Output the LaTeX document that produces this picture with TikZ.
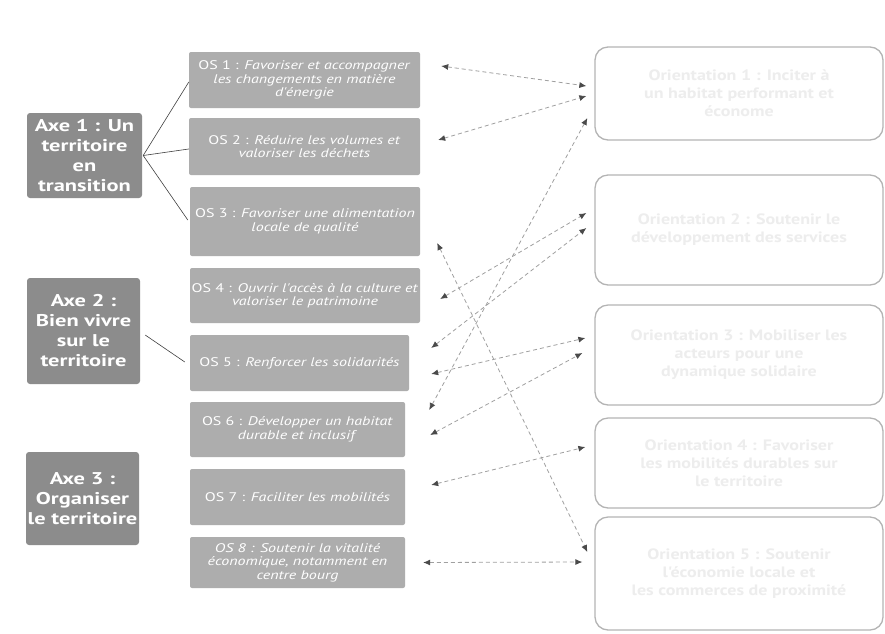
\documentclass[tikz,border=0pt]{standalone}
\usepackage{fontspec}
\setmainfont{PT Sans}[FakeStretch=1.12]
\newfontfamily\axefont{PT Sans}[FakeStretch=1.32]
\newfontfamily\osfont{PT Sans}[FakeStretch=1.28]
\newfontfamily\orfont{PT Sans}[FakeStretch=1.2]
\usetikzlibrary{arrows.meta,calc}
\definecolor{axegray}{HTML}{8C8C8C}
\definecolor{osgray}{HTML}{ADADAD}
\definecolor{rborder}{HTML}{B4B4B4}
\definecolor{linkgray}{HTML}{A0A0A0}
\definecolor{tipgray}{HTML}{4A4A4A}
\tikzset{
  axebox/.style={fill=axegray, rounded corners=3pt, text=white, align=center,
    font=\axefont\fontsize{17}{20}\selectfont\bfseries, inner sep=0pt},
  osbox/.style={fill=osgray, rounded corners=2pt, text=white, align=center,
    font=\osfont\fontsize{12.5}{13.5}\selectfont, inner sep=0pt},
  orbox/.style={draw=rborder, line width=1.3pt, fill=white, rounded corners=13pt,
    text=gray!14, align=center, font=\orfont\fontsize{15}{18}\selectfont\bfseries,
    minimum width=288pt, inner sep=0pt},
  treeline/.style={draw=black!75, line width=0.6pt},
  link/.style={draw=linkgray, line width=0.8pt, dash pattern=on 4pt off 3pt,
    {Latex[length=7pt,width=6pt,color=tipgray]}-{Latex[length=7pt,width=6pt,color=tipgray]}}
}
\begin{document}
\begin{tikzpicture}[x=1pt,y=-1pt]
\useasboundingbox (0,0) rectangle (885,633);
\fill[white] (0,0) rectangle (885,633);

% axes
\node[axebox, minimum width=115pt, minimum height=85pt] (axe1) at (84.5,155.5)
  {Axe 1 : Un\\territoire\\en\\transition};
\node[axebox, minimum width=113pt, minimum height=106pt] (axe2) at (83.5,331)
  {Axe 2 :\\Bien vivre\\sur le\\territoire};
\node[axebox, minimum width=113pt, minimum height=93pt] (axe3) at (82.5,498.5)
  {Axe 3 :\\Organiser\\le territoire};

% objectifs strategiques
\node[osbox, minimum width=231pt, minimum height=56pt] (os1) at (304.5,80)
  {OS 1 : \textit{Favoriser et accompagner}\\\textit{les changements en matière}\\\textit{d'énergie}};
\node[osbox, minimum width=231pt, minimum height=57pt] (os2) at (304.5,146.5)
  {OS 2 : \textit{Réduire les volumes et}\\\textit{valoriser les déchets}};
\node[osbox, minimum width=230pt, minimum height=69pt] (os3) at (305,221.5)
  {OS 3 : \textit{Favoriser une alimentation}\\\textit{locale de qualité}};
\node[osbox, minimum width=230pt, minimum height=55pt] (os4) at (305,295.5)
  {OS 4 : \textit{Ouvrir l'accès à la culture et}\\\textit{valoriser le patrimoine}};
\node[osbox, minimum width=219pt, minimum height=56pt] (os5) at (299.5,363)
  {OS 5 : \textit{Renforcer les solidarités}};
\node[osbox, minimum width=215pt, minimum height=55pt] (os6) at (297.5,429.5)
  {OS 6 : \textit{Développer un habitat}\\\textit{durable et inclusif}};
\node[osbox, minimum width=215pt, minimum height=56pt] (os7) at (297.5,497)
  {OS 7 : \textit{Faciliter les mobilités}};
\node[osbox, minimum width=215pt, minimum height=51pt] (os8) at (297.5,562.5)
  {\textit{OS 8 : Soutenir la vitalité}\\\textit{économique, notamment en}\\\textit{centre bourg}};

% orientations
\node[orbox, minimum height=93pt] (r1) at (739,93.5)
  {Orientation 1 : Inciter à\\un habitat performant et\\économe};
\node[orbox, minimum height=110pt] (r2) at (739,230)
  {Orientation 2 : Soutenir le\\développement des services};
\node[orbox, minimum height=100pt] (r3) at (739,355)
  {Orientation 3 : Mobiliser les\\acteurs pour une\\dynamique solidaire};
\node[orbox, minimum height=90pt] (r4) at (739,463)
  {Orientation 4 : Favoriser\\les mobilités durables sur\\le territoire};
\node[orbox, minimum height=113pt] (r5) at (739,573.5)
  {Orientation 5 : Soutenir\\l'économie locale et\\les commerces de proximité};

% tree lines
\draw[treeline] ([xshift=1pt]axe1.east) -- ([yshift=-2pt]os1.west);
\draw[treeline] ([xshift=1pt]axe1.east) -- ([yshift=-2.5pt]os2.west);
\draw[treeline] ([xshift=1pt]axe1.east) -- ([xshift=-2pt,yshift=1.5pt]os3.west);
\draw[treeline] ([xshift=5pt,yshift=-4pt]axe2.east) -- ([xshift=-5pt,yshift=1pt]os5.west);

% links
\draw[link] ([xshift=21pt,yshift=14pt]os1.east) -- ([xshift=-8pt,yshift=7.5pt]r1.west);
\draw[link] ([xshift=18pt,yshift=6.5pt]os2.east) -- ([xshift=-8pt,yshift=-2.5pt]r1.west);
\draw[link] ([xshift=24pt,yshift=19.5pt]os6.east) -- ([xshift=-7pt,yshift=-24.5pt]r1.west);
\draw[link] ([xshift=20pt,yshift=-3.5pt]os4.east) -- ([xshift=-8pt,yshift=17pt]r2.west);
\draw[link] ([xshift=22pt,yshift=15pt]os5.east) -- ([xshift=-8pt,yshift=2pt]r2.west);
\draw[link] ([xshift=17pt,yshift=-21.5pt]os3.east) -- ([xshift=-7pt,yshift=21.5pt]r5.west);
\draw[link] ([xshift=22pt,yshift=-11pt]os5.east) -- ([xshift=-9pt,yshift=17pt]r3.west);
\draw[link] ([xshift=25pt,yshift=-5.5pt]os6.east) -- ([xshift=-12pt,yshift=2pt]r3.west);
\draw[link] ([xshift=26pt,yshift=12pt]os7.east) -- ([xshift=-9pt,yshift=16pt]r4.west);
\draw[link] ([xshift=18pt]os8.east) -- ([xshift=-12pt,yshift=11.5pt]r5.west);
\end{tikzpicture}
\end{document}
